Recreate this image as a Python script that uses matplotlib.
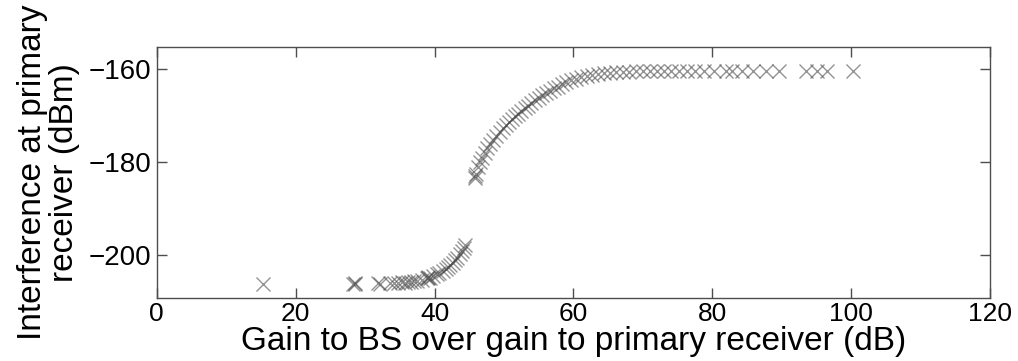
import matplotlib
matplotlib.use('Agg')
import matplotlib.pyplot as plt

plt.rcParams['font.family'] = ['Liberation Sans', 'DejaVu Sans']

# gain to BS over gain to primary receiver (dB)
gain_db = [15.3, 28.3, 28.5, 28.6, 31.8, 32.2, 33.6, 34.2, 34.8, 35.3, 35.7,
           36.2, 36.6, 37.1, 37.5, 38.2, 38.9, 39.0, 39.1, 39.3, 39.8, 40.3,
           40.7, 41.2, 41.6, 41.9, 42.3, 42.6, 43.0, 43.3, 43.7, 43.9, 44.2,
           44.4,
           45.8, 45.9, 46.0, 46.3, 46.5, 46.8, 47.2, 47.6, 48.0, 48.4, 48.9,
           49.4, 49.8, 50.3, 50.7, 51.2, 51.6, 52.0, 52.5, 53.0, 53.4, 53.9,
           54.4, 55.0, 55.5, 56.0, 56.6, 57.2, 57.8, 58.4, 59.0, 59.7, 60.4,
           61.1, 61.9, 62.7, 63.5, 64.4, 65.3, 66.2, 67.1, 68.0, 69.0, 70.0,
           71.0, 72.0, 73.0, 74.0, 75.2, 76.3, 77.5, 78.8, 80.3, 82.0, 82.9,
           84.3, 85.8, 87.8, 89.6, 93.5, 95.1, 96.5, 100.3]

# interference at primary receiver (dBm)
interf_dbm = [-206.2, -206.1, -206.0, -206.1, -206.0, -206.1, -206.0, -205.9,
              -206.0, -205.8, -206.0, -205.7, -205.8, -205.6, -205.5, -205.3,
              -204.9, -204.8, -204.7, -204.8, -204.5, -204.0, -203.8, -203.3,
              -203.0, -202.6, -202.1, -201.7, -201.1, -200.6, -199.8, -199.2,
              -198.4, -197.8,
              -183.4, -183.0, -182.6, -181.0, -180.0, -179.2, -178.0, -177.0,
              -176.2, -175.3, -174.4, -173.5, -172.8, -172.0, -171.4, -170.7,
              -170.1, -169.6, -169.0, -168.4, -167.9, -167.3, -166.8, -166.2,
              -165.7, -165.2, -164.7, -164.2, -163.8, -163.3, -162.9, -162.5,
              -162.1, -161.8, -161.5, -161.3, -161.1, -160.9, -160.8, -160.7,
              -160.6, -160.6, -160.5, -160.5, -160.5, -160.5, -160.5, -160.5,
              -160.5, -160.5, -160.5, -160.5, -160.5, -160.5, -160.5, -160.5,
              -160.5, -160.5, -160.5, -160.5, -160.5, -160.5, -160.5]

fig = plt.figure(figsize=(10.18, 3.61), dpi=100)
ax = fig.add_axes([0.154, 0.1745, 0.8185, 0.6955])

ax.plot(gain_db, interf_dbm, linestyle='none', marker='x', markersize=10,
        markeredgewidth=1.0, color='0.3', alpha=0.6)

ax.set_xlim(0, 120)
ax.set_ylim(-209.2, -155.3)
ax.set_xticks([0, 20, 40, 60, 80, 100, 120])
ax.set_yticks([-200, -180, -160])
ax.tick_params(direction='in', length=7, width=1, color='0.3',
               top=True, right=True, labelsize=19, pad=3)
ax.tick_params(axis='y', labelsize=20, pad=4)
for s in ax.spines.values():
    s.set_color('0.3')
    s.set_linewidth(1)

ax.set_xlabel('Gain to BS over gain to primary receiver (dB)', fontsize=24, labelpad=0)
ax.set_ylabel('Interference at primary\nreceiver (dBm)', fontsize=24, labelpad=6,
              linespacing=1.05)

fig.savefig('out.png', dpi=100)
